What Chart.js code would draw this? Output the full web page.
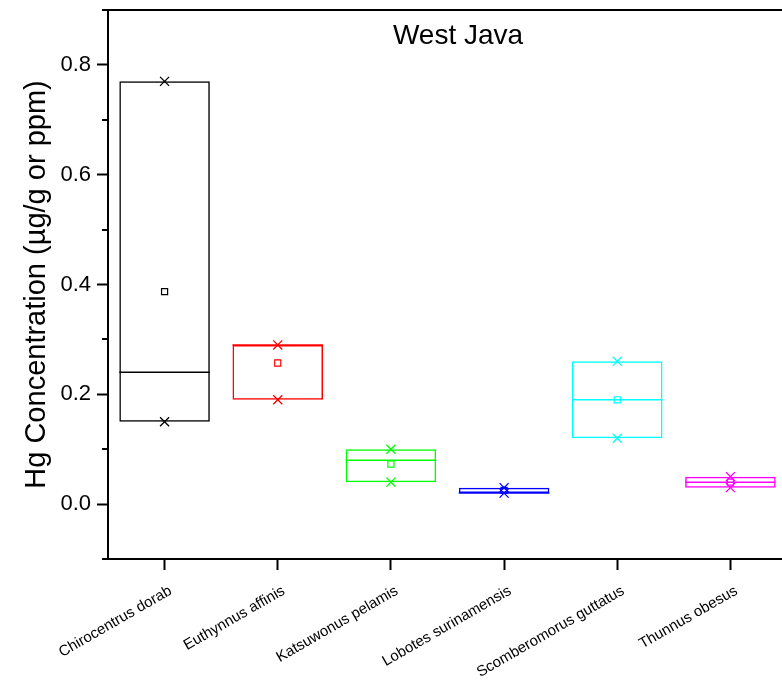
<!DOCTYPE html>
<html>
<head>
<meta charset="utf-8">
<title>West Java</title>
<script src="https://cdn.jsdelivr.net/npm/chart.js@4.4.1/dist/chart.umd.min.js"></script>
<style>
  html, body { margin: 0; padding: 0; background: #fff; overflow: hidden; }
  #wrap { position: relative; width: 788px; height: 693px; }
</style>
</head>
<body>
<div id="wrap"><canvas id="hgChart"></canvas></div>
<script>
// Hg concentration per species, West Java
const species = ["Chirocentrus dorab", "Euthynnus affinis", "Katsuwonus pelamis",
  "Lobotes surinamensis", "Scomberomorus guttatus", "Thunnus obesus"];
const boxLow  = [0.15, 0.19, 0.04, 0.02, 0.12, 0.03];
const boxHigh = [0.77, 0.29, 0.10, 0.03, 0.26, 0.05];
const medians = [0.24, 0.29, 0.08, 0.02, 0.19, 0.04];
const means   = [0.387, 0.257, 0.073, 0.025, 0.19, 0.04];
const maxima  = [0.77, 0.29, 0.10, 0.03, 0.26, 0.05];
const minima  = [0.15, 0.19, 0.04, 0.02, 0.12, 0.03];
const yTicks  = [-0.1, 0.0, 0.1, 0.2, 0.3, 0.4, 0.5, 0.6, 0.7, 0.8, 0.9];

const colors = ["#000000", "#ff0000", "#00ff00", "#0000ff", "#00ffff", "#ff00ff"];
const FONT = "'Liberation Sans', Arial, sans-serif";

const isMajor = (v) => Math.abs(Math.round(v * 10)) % 2 === 0;

// short minor ticks on the left axis + plot title
const extras = {
  id: "extras",
  afterDraw(chart) {
    const { ctx, chartArea, scales } = chart;
    const y = scales.y;
    ctx.save();
    ctx.strokeStyle = "#000";
    ctx.lineWidth = 2;
    y.ticks.forEach(t => {
      if (isMajor(t.value)) return;
      const py = Math.round(y.getPixelForValue(t.value));
      ctx.beginPath();
      ctx.moveTo(chartArea.left - 6, py);
      ctx.lineTo(chartArea.left, py);
      ctx.stroke();
    });
    ctx.fillStyle = "#000";
    ctx.font = "28px " + FONT;
    ctx.textAlign = "center";
    ctx.textBaseline = "alphabetic";
    ctx.fillText("West Java", chartArea.left + 350, chartArea.top + 34);
    ctx.restore();
  }
};

const pointSet = (label, data, style, radius, extra) => Object.assign({
  type: "line", label, data, showLine: false,
  pointStyle: style, pointRadius: radius,
  pointBorderColor: colors, pointBackgroundColor: "rgba(0,0,0,0)",
  pointBorderWidth: 1.3
}, extra || {});

new Chart(document.getElementById("hgChart"), {
  data: {
    labels: species,
    datasets: [
      pointSet("Max", maxima, "crossRot", 6.4),
      pointSet("Min", minima, "crossRot", 6.4),
      pointSet("Mean", means, "rect", 4.3, { pointBorderWidth: 1.2 }),
      pointSet("Median", medians, "line", 45.3, { pointBorderWidth: 1.5 }),
      {
        type: "bar", label: "Box",
        data: boxLow.map((v, i) => [v, boxHigh[i]]),
        backgroundColor: "rgba(0,0,0,0)",
        borderColor: colors, borderWidth: 1.5, borderSkipped: false,
        barPercentage: 0.8, categoryPercentage: 1.0
      }
    ]
  },
  options: {
    responsive: true, maintainAspectRatio: false, animation: false, events: [],
    layout: { autoPadding: false, padding: { top: 10, right: 1, left: 0, bottom: 0 } },
    plugins: { legend: { display: false }, tooltip: { enabled: false } },
    scales: {
      x: {
        type: "category", position: "bottom", offset: true,
        grid: { display: true, offset: false, drawOnChartArea: false, drawTicks: true, tickLength: 11, tickWidth: 2, tickColor: "#000" },
        border: { display: true, color: "#000", width: 2 },
        ticks: { color: "#000", font: { family: FONT, size: 15 }, autoSkip: false, maxRotation: 30, minRotation: 30,
          padding: 12, labelOffset: 6 },
        afterFit: (s) => { s.height = 134; s.paddingLeft = 0; s.paddingRight = 0; }
      },
      xTop: {
        type: "category", position: "top", offset: true,
        grid: { display: true, drawOnChartArea: false, drawTicks: false },
        border: { display: true, color: "#000", width: 2 },
        ticks: { display: false },
        afterFit: (s) => { s.height = 0; }
      },
      y: {
        type: "linear", position: "left", min: -0.1, max: 0.9,
        afterBuildTicks: (s) => { s.ticks = yTicks.map(v => ({ value: v })); },
        grid: { display: true, drawOnChartArea: false, drawTicks: true, tickLength: 11, tickWidth: 2,
          tickColor: (c) => isMajor(c.tick.value) ? "#000" : "rgba(0,0,0,0)" },
        border: { display: true, color: "#000", width: 2 },
        ticks: { color: "#000", font: { family: FONT, size: 22 }, padding: 6,
          callback: (v) => isMajor(v) ? Number(v).toFixed(1) : "" },
        title: { display: true, text: "Hg Concentration (µg/g or ppm)", color: "#000",
          font: { family: FONT, size: 29 }, padding: { top: 20, bottom: 0 } },
        afterFit: (s) => { s.width = 108; s.paddingTop = 0; s.paddingBottom = 0; }
      }
    }
  },
  plugins: [extras]
});
</script>
</body>
</html>
